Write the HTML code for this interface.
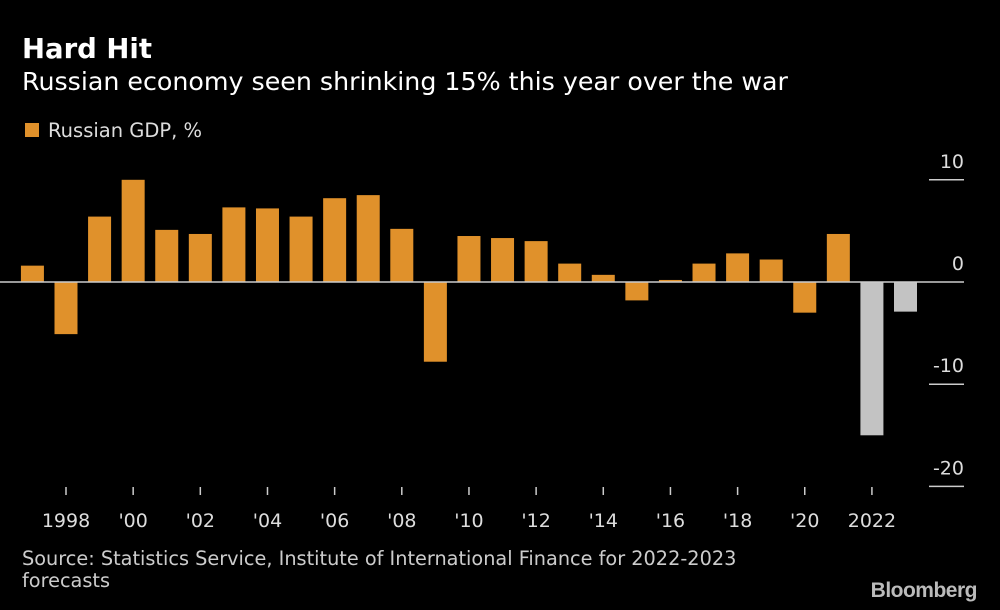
<!DOCTYPE html>
<html><head><meta charset="utf-8"><style>
body{margin:0;background:#000;width:1000px;height:610px;overflow:hidden;font-family:"DejaVu Sans","Liberation Sans",sans-serif}
svg{display:block}
</style></head><body>
<svg id="chart" width="1000" height="610" xmlns="http://www.w3.org/2000/svg">
<text x="22" y="58" fill="#fff" font-size="27.5" font-weight="bold">Hard Hit</text>
<text x="22" y="90" fill="#fff" font-size="25.3">Russian economy seen shrinking 15% this year over the war</text>
<rect x="25" y="123" width="14" height="14" fill="#e0912b"/>
<text x="48" y="137" fill="#ddd" font-size="19.5">Russian GDP, %</text>
<g id="bars"></g>
<g id="axes"></g>
<text x="22" y="565" fill="#ccc" font-size="19.3">Source: Statistics Service, Institute of International Finance for 2022-2023</text>
<text x="22" y="587" fill="#ccc" font-size="19.3">forecasts</text>
<text x="977" y="597" fill="#bbb" font-size="21" font-weight="bold" text-anchor="end" letter-spacing="-0.5" font-family="Liberation Sans, sans-serif">Bloomberg</text>
</svg>
<script>
const years=[1997,1998,1999,2000,2001,2002,2003,2004,2005,2006,2007,2008,2009,2010,2011,2012,2013,2014,2015,2016,2017,2018,2019,2020,2021,2022,2023];
const gdp=[1.6,-5.1,6.4,10.0,5.1,4.7,7.3,7.2,6.4,8.2,8.5,5.2,-7.8,4.5,4.3,4.0,1.8,0.7,-1.8,0.2,1.8,2.8,2.2,-3.0,4.7,-15.0,-2.9];
const forecast=[0,0,0,0,0,0,0,0,0,0,0,0,0,0,0,0,0,0,0,0,0,0,0,0,0,1,1];
const yTicks=[10,0,-10,-20];
const yTickLabels=["10","0","-10","-20"];
const xTickYears=[1998,2000,2002,2004,2006,2008,2010,2012,2014,2016,2018,2020,2022];
const xTickLabels=["1998","'00","'02","'04","'06","'08","'10","'12","'14","'16","'18","'20","2022"];
const NS="http://www.w3.org/2000/svg";
const x=y=>66+(y-1998)*33.58;
const yv=v=>282-v*10.22;
const bars=document.getElementById('bars'),axes=document.getElementById('axes');
function mk(tag,attrs,parent){const e=document.createElementNS(NS,tag);for(const k in attrs)e.setAttribute(k,attrs[k]);parent.appendChild(e);return e;}
years.forEach((yr,i)=>{const v=gdp[i];const top=Math.min(yv(v),yv(0)),h=Math.abs(yv(v)-yv(0));
const r=mk('rect',{x:x(yr)-11.5,y:top,width:23,height:h,fill:forecast[i]?'#c3c3c3':'#e0912b'},bars);

});
const z=mk('line',{x1:0,x2:964,y1:yv(0),y2:yv(0),stroke:'#ccc','stroke-width':1.5},axes);


yTicks.forEach((t,i)=>{
if(t!==0){const l=mk('line',{x1:929,x2:964,y1:yv(t),y2:yv(t),stroke:'#ccc','stroke-width':1.5},axes);

}
const tx=mk('text',{x:964,y:yv(t)-12,fill:'#ddd','font-size':19,'text-anchor':'end'},axes);tx.textContent=yTickLabels[i];

});
xTickYears.forEach((yr,i)=>{
const l=mk('line',{x1:x(yr),x2:x(yr),y1:487,y2:495,stroke:'#ccc','stroke-width':1.5},axes);


const tx=mk('text',{x:x(yr),y:527,fill:'#ddd','font-size':19,'text-anchor':'middle'},axes);tx.textContent=xTickLabels[i];

});
</script>
</body></html>
